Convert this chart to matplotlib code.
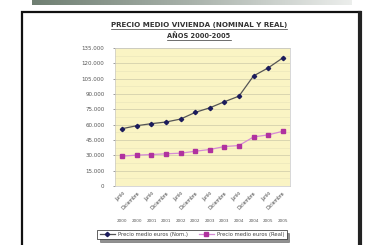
import numpy as np
import matplotlib
matplotlib.use("Agg")
import matplotlib.pyplot as plt
from matplotlib.patches import Rectangle
from matplotlib.lines import Line2D
from matplotlib.ticker import FuncFormatter, MultipleLocator

# data
periodos = ["Junio", "Diciembre"] * 6
anios = ["2000", "2000", "2001", "2001", "2002", "2002",
         "2003", "2003", "2004", "2004", "2005", "2005"]
nominal = [56100, 59000, 61000, 62600, 65500, 72000,
           76500, 82400, 87900, 107700, 115500, 125300]
real = [29200, 30200, 30800, 31500, 32100, 34000,
        35700, 38600, 39600, 48000, 50000, 53500]

fig = plt.figure(figsize=(3.72, 2.45), dpi=100)
fig.patch.set_facecolor("white")

# grey band at the top of the slide
grad = np.linspace(0, 1, 256).reshape(1, -1)
band = fig.add_axes([32 / 372, 1 - 5 / 245, 320 / 372, 5 / 245])
band.imshow(grad, aspect="auto",
            cmap=matplotlib.colors.LinearSegmentedColormap.from_list(
                "b", ["#6f7f72", "#a9b2ab", "#eceeec"]))
band.axis("off")

# black frame of the chart
fig.add_artist(Rectangle((22 / 372, -0.05), 338 / 372, 1.05 - 12 / 245,
                         transform=fig.transFigure, fill=False,
                         edgecolor="#111111", linewidth=1.6))
fig.add_artist(Line2D([360 / 372, 360 / 372], [-0.05, 1 - 13 / 245],
                      transform=fig.transFigure, color="#222222", lw=3.0))

ax = fig.add_axes([115 / 372, 1 - 186 / 245, 175 / 372, 138 / 245])
ax.set_facecolor("#faf4c4")
x = np.arange(len(nominal))
ax.plot(x, nominal, color="#555555", lw=0.9, marker="D", ms=2.2,
        mfc="#1c1c5c", mec="#1c1c5c", label="Precio medio euros (Nom.)")
ax.plot(x, real, color="#d58ad5", lw=0.9, marker="s", ms=2.2,
        mfc="#b0329f", mec="#b0329f", label="Precio medio euros (Real)")

ax.set_xlim(-0.5, len(nominal) - 0.5)
ax.set_ylim(0, 135000)
ax.yaxis.set_major_locator(MultipleLocator(15000))
ax.yaxis.set_minor_locator(MultipleLocator(7500))
ax.yaxis.set_major_formatter(FuncFormatter(lambda v, p: f"{int(v):,}".replace(",", ".")))
ax.grid(axis="y", which="major", color="#cdc9a8", lw=0.5)
ax.grid(axis="y", which="minor", color="#e8e3bb", lw=0.4)
ax.set_axisbelow(True)
for s in ax.spines.values():
    s.set_color("#c8c8c8")
    s.set_linewidth(0.5)
ax.tick_params(axis="y", labelsize=4.0, colors="#555555", length=1.5, width=0.4,
               which="both", pad=6)
ax.tick_params(axis="y", which="minor", length=0)
ax.set_xticks(x)
ax.set_xticklabels(periodos, rotation=45, ha="right", rotation_mode="anchor",
                   fontsize=3.3, color="#444444")
ax.tick_params(axis="x", length=0, pad=3)
for xi, a in zip(x, anios):
    ax.text(xi, -0.25, a, transform=ax.get_xaxis_transform(), ha="center",
            va="center", fontsize=3.0, color="#555555")

leg = ax.legend(loc="upper center", bbox_to_anchor=(0.44, -0.30), ncol=2,
                fontsize=3.8, frameon=True, fancybox=False,
                shadow={"color": "#222222"},
                handlelength=3.0, borderpad=0.4, columnspacing=2.0,
                handletextpad=0.5)
leg.get_frame().set_edgecolor("#222222")
leg.get_frame().set_linewidth(0.5)
for t in leg.get_texts():
    t.set_color("#444444")

t1 = fig.text(199 / 372, 1 - 25 / 245, "PRECIO MEDIO VIVIENDA (NOMINAL Y REAL)",
              ha="center", va="center", fontsize=5.1, fontweight="bold", color="#333333")
t2 = fig.text(199 / 372, 1 - 36 / 245, "AÑOS 2000-2005",
              ha="center", va="center", fontsize=4.8, fontweight="bold", color="#333333")

fig.canvas.draw()
r = fig.canvas.get_renderer()
for t in (t1, t2):
    bb = t.get_window_extent(r).transformed(fig.transFigure.inverted())
    fig.add_artist(Line2D([bb.x0, bb.x1], [bb.y0 - 0.003, bb.y0 - 0.003],
                          transform=fig.transFigure, color="#333333", lw=0.5))

fig.savefig("out.png", dpi=100)
